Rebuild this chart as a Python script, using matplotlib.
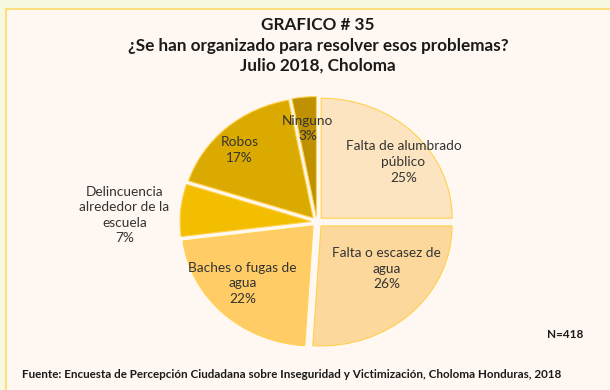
import matplotlib.pyplot as plt
from matplotlib.patches import Rectangle

# Respuestas de la encuesta (porcentajes)
categorias = ['Falta de alumbrado\npúblico', 'Falta o escasez de\nagua', 'Baches o fugas de\nagua',
              'Delincuencia\nalrededor de la\nescuela', 'Robos', 'Ninguno']
porcentajes = [25, 26, 22, 7, 17, 3]
colores = ['#FDE4C0', '#FDD89C', '#FFCC66', '#F3BE00', '#DBAA00', '#BF9000']

# posiciones de las etiquetas (unidades del radio)
pos_etiquetas = [(0.66, 0.50), (0.53, -0.39), (-0.57, -0.51), (-1.47, 0.06), (-0.59, 0.60), (-0.07, 0.78)]

plt.rcParams['font.family'] = ['Lato', 'DejaVu Sans']

W, H = 610, 390
fig = plt.figure(figsize=(W / 100, H / 100), dpi=100)
fig.patch.set_facecolor('#F6F8E0')

# panel interior con borde dorado
fig.patches.append(Rectangle((6 / W, -0.05), 1.1, 1 - 9 / H + 0.05, transform=fig.transFigure,
                             facecolor='#FFF7F1', edgecolor='#FFD966', linewidth=1.2, zorder=-5))

titulo = dict(ha='center', va='center', fontsize=12.3, fontweight='bold', color='#1a1a1a')
fig.text(318 / W, 1 - 25 / H, 'GRAFICO # 35', **titulo)
fig.text(318 / W, 1 - 46 / H, '¿Se han organizado para resolver esos problemas?', **titulo)
fig.text(318 / W, 1 - 66 / H, 'Julio 2018, Choloma', **titulo)

# ejes del pastel: 1 unidad = 131 px en x, 120 px en y
cx, cy, rx, ry = 317, 222, 131, 120
ext = 1.2
ax = fig.add_axes([(cx - ext * rx) / W, (H - cy - ext * ry) / H, 2 * ext * rx / W, 2 * ext * ry / H])
ax.pie(porcentajes, colors=colores, startangle=90, counterclock=False,
       explode=[0.045] * len(porcentajes),
       wedgeprops=dict(edgecolor='#FFD24D', linewidth=0.8))
ax.set_aspect('auto')
ax.set_xlim(-ext, ext)
ax.set_ylim(-ext, ext)
ax.axis('off')

for cat, p, (x, y) in zip(categorias, porcentajes, pos_etiquetas):
    ax.text(x, y, f'{cat}\n{p}%', ha='center', va='center', fontsize=9.8,
            color='#333333', linespacing=1.35)

fig.text(583 / W, 1 - 335 / H, 'N=418', ha='right', va='center', fontsize=8.5, fontweight='bold', color='#1a1a1a')
fig.text(22 / W, 1 - 375 / H,
         'Fuente: Encuesta de Percepción Ciudadana sobre Inseguridad y Victimización, Choloma Honduras, 2018',
         ha='left', va='center', fontsize=8.4, fontweight='bold', color='#1a1a1a')

fig.savefig('out.png', dpi=100, facecolor=fig.get_facecolor())
